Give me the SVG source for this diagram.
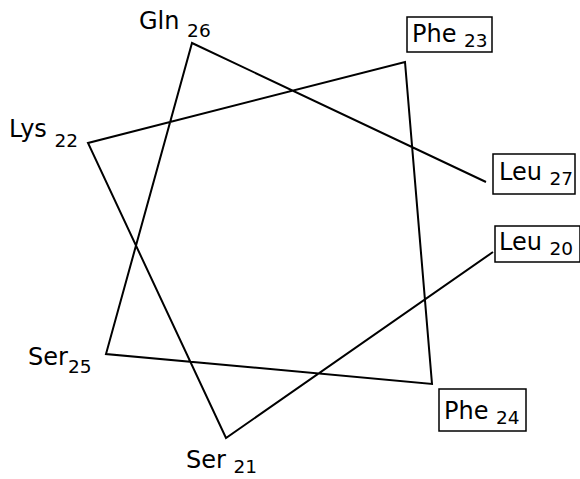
<svg xmlns="http://www.w3.org/2000/svg" width="580" height="479" viewBox="0 0 580 479">
<style>
text{font-family:"DejaVu Sans",Verdana,sans-serif;font-size:24px;fill:#000}
.s{font-size:18.5px}
.b{fill:#fff;stroke:#000;stroke-width:1.5}
.c{fill:none;stroke:#000;stroke-width:2;stroke-linejoin:miter}
</style>
<rect width="580" height="479" fill="#fff"/>
<g id="connectors">
<polyline class="c" points="493,252 226,438 88,143 405,62 432,384 106,354 192,43 486,182"/>
</g>
<g id="gln26"><text x="139" y="29">Gln <tspan class="s" dy="8">26</tspan></text></g>
<g id="phe23"><rect class="b" x="407" y="17" width="85" height="35"/><text x="412" y="42">Phe <tspan class="s" dy="5">23</tspan></text></g>
<g id="lys22"><text x="9" y="137">Lys <tspan class="s" dy="10">22</tspan></text></g>
<g id="leu27"><rect class="b" x="493" y="154" width="82" height="40"/><text x="499" y="180">Leu <tspan class="s" dy="5">27</tspan></text></g>
<g id="leu20"><rect class="b" x="495" y="226" width="85" height="36"/><text x="499" y="250">Leu <tspan class="s" dy="5">20</tspan></text></g>
<g id="ser25"><text x="28" y="365">Ser<tspan class="s" dy="8">25</tspan></text></g>
<g id="phe24"><rect class="b" x="439" y="389" width="87" height="42"/><text x="444" y="419">Phe <tspan class="s" dy="5">24</tspan></text></g>
<g id="ser21"><text x="186" y="468">Ser <tspan class="s" dy="5">21</tspan></text></g>
</svg>
